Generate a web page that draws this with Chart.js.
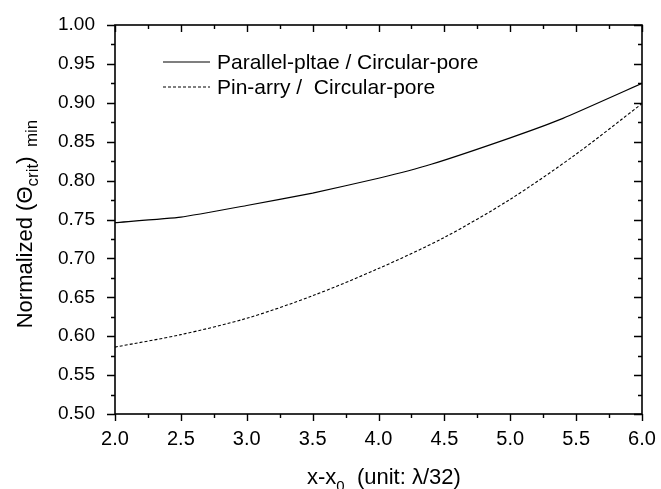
<!DOCTYPE html>
<html>
<head>
<meta charset="utf-8">
<script src="https://cdn.jsdelivr.net/npm/chart.js@4/dist/chart.umd.min.js"></script>
<style>
  html, body { margin: 0; padding: 0; background: #fff; }
  #wrap { width: 661px; height: 489px; }
</style>
</head>
<body>
<div id="wrap"><canvas id="chart" width="661" height="489"></canvas></div>
<script>
// values
const plateX = [2.0, 2.5, 3.0, 3.5, 4.0, 4.4, 5.0, 5.4, 6.0]
const plateY = [0.746, 0.753, 0.768, 0.784, 0.803, 0.821, 0.855, 0.880, 0.925]
const pinX = [2.0, 2.5, 3.0, 3.5, 4.0, 4.5, 5.0, 5.5, 6.0]
const pinY = [0.586, 0.602, 0.623, 0.652, 0.687, 0.727, 0.776, 0.834, 0.899]
const seriesLabels = ['Parallel-pltae / Circular-pore', 'Pin-arry /  Circular-pore']

const FONT = '"Liberation Sans", Arial, sans-serif'

function pts(xs, ys){
    return xs.map(function(x, i){ return {x: x, y: ys[i]} })
}

// frame + ticks: outward on left/bottom, inward on top/right
const framePlugin = {
    id: 'frame',
    afterDraw: function(chart){
        const ctx = chart.ctx
        const a = chart.chartArea
        const xs = chart.scales.x, ys = chart.scales.y
        ctx.save()
        ctx.strokeStyle = '#000'
        ctx.lineWidth = 1.6
        ctx.strokeRect(a.left, a.top, a.right - a.left, a.bottom - a.top)
        ctx.lineWidth = 1.4
        ctx.beginPath()
        for (let i = 0; i <= 16; i++){
            const v = 2 + i * 0.25
            const px = Math.round(xs.getPixelForValue(v)) + 0.5
            const len = (i % 2 === 0) ? 7 : 4
            ctx.moveTo(px, a.bottom); ctx.lineTo(px, a.bottom + len)
            ctx.moveTo(px, a.top); ctx.lineTo(px, a.top + len)
        }
        for (let i = 0; i <= 20; i++){
            const v = 0.5 + i * 0.025
            const py = Math.round(ys.getPixelForValue(v)) + 0.5
            const len = (i % 2 === 0) ? 8 : 4
            ctx.moveTo(a.left, py); ctx.lineTo(a.left - len, py)
            ctx.moveTo(a.right, py); ctx.lineTo(a.right - len, py)
        }
        ctx.stroke()

        // legend
        ctx.font = '21px ' + FONT
        ctx.fillStyle = '#000'
        ctx.textBaseline = 'middle'
        ctx.lineWidth = 1.1
        ctx.beginPath(); ctx.moveTo(163, 62); ctx.lineTo(210, 62); ctx.stroke()
        ctx.fillText(seriesLabels[0], 217, 63)
        ctx.setLineDash([3, 2])
        ctx.beginPath(); ctx.moveTo(163, 87); ctx.lineTo(210, 87); ctx.stroke()
        ctx.setLineDash([])
        ctx.fillText(seriesLabels[1], 217, 88)

        // x title
        ctx.textBaseline = 'alphabetic'
        let x = 307
        const by = 484
        ctx.font = '22px ' + FONT
        ctx.fillText('x-x', x, by); x += ctx.measureText('x-x').width
        ctx.font = '15px ' + FONT
        ctx.fillText('0', x, by + 7); x += ctx.measureText('0').width
        ctx.font = '22px ' + FONT
        ctx.fillText('  (unit: ', x, by); x += ctx.measureText('  (unit: ').width
        ctx.fillText('\u03bb/32)', x, by)

        // y title
        ctx.translate(32, 224)
        ctx.rotate(-Math.PI / 2)
        const parts = [['Normalized (\u0398', 22, 0], ['crit', 17, 6], [')', 22, 0], ['  min', 17, 5]]
        let w = 0
        parts.forEach(function(p){ ctx.font = p[1] + 'px ' + FONT; w += ctx.measureText(p[0]).width })
        let tx = -w / 2
        parts.forEach(function(p){
            ctx.font = p[1] + 'px ' + FONT
            ctx.fillText(p[0], tx, p[2])
            tx += ctx.measureText(p[0]).width
        })
        ctx.restore()
    }
}

const myChart = new Chart(document.getElementById('chart').getContext('2d'), {
    type: 'line',
    data: {
        datasets: [
            {label: seriesLabels[0], data: pts(plateX, plateY), borderColor: '#000',
             borderWidth: 1.2, pointRadius: 0, tension: 0.15, fill: false},
            {label: seriesLabels[1], data: pts(pinX, pinY), borderColor: '#000',
             borderWidth: 1.1, borderDash: [3, 2], pointRadius: 0, tension: 0.3, fill: false}
        ]
    },
    options: {
        responsive: false,
        animation: false,
        layout: {padding: {left: 0, top: 25, right: 19, bottom: 0}},
        plugins: {legend: {display: false}, tooltip: {enabled: false}},
        scales: {
            x: {
                type: 'linear', min: 2, max: 6,
                afterFit: function(s){ s.height = 75 },
                afterBuildTicks: function(s){
                    s.ticks = [2, 2.5, 3, 3.5, 4, 4.5, 5, 5.5, 6].map(function(v){ return {value: v} })
                },
                ticks: {color: '#000', font: {family: FONT, size: 20}, padding: 5,
                        maxRotation: 0, autoSkip: false,
                        callback: function(v){ return Number(v).toFixed(1) }},
                grid: {display: false},
                border: {display: false}
            },
            y: {
                min: 0.5, max: 1.0,
                afterFit: function(s){ s.width = 115 },
                afterBuildTicks: function(s){
                    const t = []
                    for (let i = 0; i <= 10; i++) t.push({value: 0.5 + i * 0.05})
                    s.ticks = t
                },
                ticks: {color: '#000', font: {family: FONT, size: 19}, padding: 12,
                        autoSkip: false,
                        callback: function(v){ return Number(v).toFixed(2) }},
                grid: {display: false},
                border: {display: false}
            }
        }
    },
    plugins: [framePlugin]
})
</script>
</body>
</html>
